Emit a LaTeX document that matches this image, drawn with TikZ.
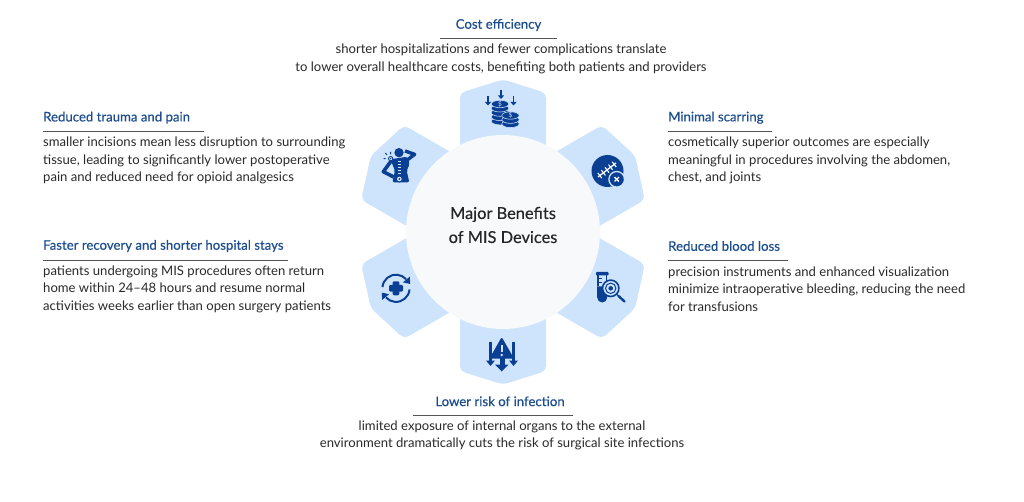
\documentclass[tikz,border=0pt]{standalone}
\usepackage{fontspec}
\usetikzlibrary{calc}
\setmainfont{Lato}
\newfontfamily\titlef{Lato}[FakeBold=0.35]
\newfontfamily\hubf{Lato}[FakeBold=0.3]
\definecolor{petal}{HTML}{CDE4FC}
\definecolor{hub}{HTML}{F8F9FA}
\definecolor{ink}{HTML}{0B3F94}
\definecolor{head}{HTML}{1D4E8F}
\definecolor{bodyc}{HTML}{2A2A2A}
\definecolor{rule}{HTML}{555555}
\tikzset{
  x=1pt,y=-1pt,
  petalshape/.style={fill=petal,rounded corners=5pt},
  hubc/.style={fill=hub,draw=none},
  title/.style={inner sep=0pt,font=\fontsize{13.2}{15}\titlef,text=head},
  bodyl/.style={inner sep=0pt,align=left,anchor=west,font=\fontsize{13.1}{17.5}\selectfont,text=bodyc},
  bodyctr/.style={inner sep=0pt,align=center,font=\fontsize{13.1}{17.5}\selectfont,text=bodyc},
  hubtext/.style={inner sep=0pt,align=center,font=\fontsize{16.4}{24}\hubf,text=black!85},
  rulel/.style={draw=rule,line width=0.7pt},
  icons/.style={draw=ink,line width=2pt,fill=none},
  coin/.style={fill=ink,draw=petal,line width=0.55pt},
  darrow/.style={draw=ink,line width=1.5pt},
}
\newcommand{\downarrowicon}[3]{% x, y top, y tip
  \draw[darrow] (#1,#2) -- (#1,#3-2);
  \fill[ink] (#1-3.2,#3-3.6) -- (#1+3.2,#3-3.6) -- (#1,#3) -- cycle;
}
\newcommand{\coinstack}[5]{% x, top y, half width, count, gap
  \foreach \i in {#4,...,0}{
    \filldraw[coin] (#1,#2+\i*#5) ellipse[x radius=#3,y radius=3.7];
  }
}
\begin{document}
\begin{tikzpicture}
\useasboundingbox[fill=white] (0,0) rectangle (1024,502);
\foreach \a in {0,60,120,180,240,300}{
  \fill[petalshape,rotate around={\a:(503,232)}]
    (460,150) -- (460,93) -- (503,79.5) -- (546,93) -- (546,150) -- cycle;
}
\node[circle,hubc,minimum size=194pt,inner sep=0pt] (hub) at (503,232) {};
\node[hubtext] (hubt) at (503,225) {Major Benefits\\of MIS Devices};

% coins icon
\downarrowicon{501}{90}{99}
\downarrowicon{488}{96.5}{105.5}
\downarrowicon{513.5}{96.5}{105.5}
\coinstack{500}{104}{8.8}{4}{4.3}
\coinstack{510.5}{115.5}{8.7}{2}{4.2}
\node[inner sep=0pt,font=\fontsize{6.5}{6.5}\selectfont,text=petal] (usd1) at (500,104) {\$};
\node[inner sep=0pt,font=\fontsize{6.5}{6.5}\selectfont,text=petal] (usd2) at (510.5,115.5) {\$};

% back pain icon
\begin{scope}[shift={(375,140)},scale=1/3]
  \fill[ink] (72,38) circle[radius=14];
  \fill[ink,rounded corners=2pt] (46,58) -- (98,50) -- (104,72) -- (95,92) -- (103,127) -- (52,127) -- (60,92) -- cycle;
  \draw[ink,line width=3.4pt,line join=round] (94,62) -- (119,43) -- (90,33);
  \draw[ink,line width=3.6pt,line join=round] (49,62) -- (25,95) -- (56,111);
  \foreach \yy in {62,71,80,89,98}{\fill[petal] (68,\yy) rectangle (78,\yy+4.5);}
  \filldraw[fill=petal,draw=ink,line width=0.9pt] (47,56) circle[radius=6.5];
  \fill[ink] (47,56) circle[radius=2.2];
  \filldraw[fill=petal,draw=ink,line width=1pt] (73,117) circle[radius=9];
  \fill[ink] (73,117) circle[radius=3];
  \draw[ink,line width=0.9pt] (32,56) -- (26,56) (36,45) -- (31,39) (47,43) -- (47,36);
  \draw[ink,line width=0.9pt] (91,120) -- (100,122) (88,108) -- (96,103);
\end{scope}

% scar icon
\fill[ink] (607.5,171) circle[radius=16];
\draw[white,line width=1.3pt] (598,177) -- (616,163);
\foreach \t in {0.1,0.3,0.5,0.7,0.9}{
  \draw[white,line width=1.1pt] ($(598,177)!\t!(616,163)+(-2,-2.6)$) -- ($(598,177)!\t!(616,163)+(2,2.6)$);
}
\filldraw[fill=ink,draw=petal,line width=1.3pt] (616.7,179.3) circle[radius=7.8];
\draw[white,line width=1.4pt] (614.5,177.1) -- (618.9,181.5) (618.9,177.1) -- (614.5,181.5);

% recovery icon (local y up)
\begin{scope}[shift={(396,288.3)},x=1pt,y=1pt]
  \foreach \r in {0,180}{
    \begin{scope}[rotate=\r]
      \draw[icons] (175:13.6) arc[start angle=175,end angle=42,radius=13.6];
      \fill[ink] (13.8,11.6) -- (6.9,5.9) -- (14.2,4.3) -- cycle;
    \end{scope}
  }
  \fill[ink,rounded corners=1.2pt] (-3.3,-7) rectangle (3.3,7);
  \fill[ink,rounded corners=1.2pt] (-7,-3.3) rectangle (7,3.3);
\end{scope}

% test tube icon (local y up)
\fill[ink,rounded corners=0.8pt] (596,272) rectangle (608.5,275.5);
\begin{scope}[shift={(602.2,297.5)},x=1pt,y=1pt]
  \fill[ink] (-5,11) -- (5,11) -- (5,0) arc[start angle=0,end angle=-180,radius=5] -- cycle;
  \draw[ink,line width=1.6pt] (-4.2,23) -- (-4.2,11) (4.2,23) -- (4.2,11);
  \draw[ink,line width=0.8pt] (-3.4,19) -- (0,19) (-3.4,15) -- (0,15);
\end{scope}
\filldraw[fill=petal,draw=ink,line width=1.6pt] (610.7,288.3) circle[radius=8.2];
\draw[ink,line width=1pt] (610.7,288.3) circle[radius=5.2];
\fill[ink] (610.7,288.3) circle[radius=2.3];
\draw[ink,line width=1.3pt] (616.5,294) -- (618.5,296);
\draw[ink,line width=2.4pt,line cap=round] (618.5,296) -- (624.5,301.5);

% infection icon
\fill[ink,rounded corners=2pt] (501.7,337) -- (514,358.5) -- (489.5,358.5) -- cycle;
\draw[petal,line width=2pt] (501.7,344.5) -- (501.7,351.5);
\fill[petal] (501.7,355) circle[radius=1.3];
\draw[ink,line width=2.2pt] (490.5,341.5) -- (490.5,362);
\draw[ink,line width=2.2pt] (513.5,341.5) -- (513.5,362);
\fill[ink] (486,360.5) -- (495,360.5) -- (490.5,366) -- cycle;
\fill[ink] (509,360.5) -- (518,360.5) -- (513.5,366) -- cycle;
\fill[ink] (499.5,358) rectangle (504.5,366);
\fill[ink] (495,364.5) -- (508.5,364.5) -- (501.7,371.5) -- cycle;

% titles and text
\node[title] (t1) at (498.5,25) {Cost efficiency};
\coordinate (t1a) at (440,38.5); \coordinate (t1b) at (557,38.5);
\draw[rulel] (t1a) -- (t1b);
\node[bodyctr] (b1) at (501,58.7) {shorter hospitalizations and fewer complications translate\\to lower overall healthcare costs, benefiting both patients and providers};

\node[title,anchor=west] (t2) at (43,117.7) {Reduced trauma and pain};
\coordinate (t2a) at (43,131.5); \coordinate (t2b) at (204,131.5);
\draw[rulel] (t2a) -- (t2b);
\node[bodyl] (b2) at (43,160.5) {smaller incisions mean less disruption to surrounding\\tissue, leading to significantly lower postoperative\\pain and reduced need for opioid analgesics};

\node[title,anchor=west] (t3) at (43,246) {Faster recovery and shorter hospital stays};
\coordinate (t3a) at (43,260); \coordinate (t3b) at (288,260);
\draw[rulel] (t3a) -- (t3b);
\node[bodyl] (b3) at (43,289) {patients undergoing MIS procedures often return\\home within 24–48 hours and resume normal\\activities weeks earlier than open surgery patients};

\node[title,anchor=west] (t4) at (668,117.7) {Minimal scarring};
\coordinate (t4a) at (668,131.5); \coordinate (t4b) at (772,131.5);
\draw[rulel] (t4a) -- (t4b);
\node[bodyl] (b4) at (668,160.5) {cosmetically superior outcomes are especially\\meaningful in procedures involving the abdomen,\\chest, and joints};

\node[title,anchor=west] (t5) at (668,246) {Reduced blood loss};
\coordinate (t5a) at (668,260); \coordinate (t5b) at (788,260);
\draw[rulel] (t5a) -- (t5b);
\node[bodyl] (b5) at (668,289) {precision instruments and enhanced visualization\\minimize intraoperative bleeding, reducing the need\\for transfusions};

\node[title] (t6) at (500,401.3) {Lower risk of infection};
\coordinate (t6a) at (413,415); \coordinate (t6b) at (573,415);
\draw[rulel] (t6a) -- (t6b);
\node[bodyctr] (b6) at (502,435.2) {limited exposure of internal organs to the external\\environment dramatically cuts the risk of surgical site infections};
\end{tikzpicture}
\end{document}
